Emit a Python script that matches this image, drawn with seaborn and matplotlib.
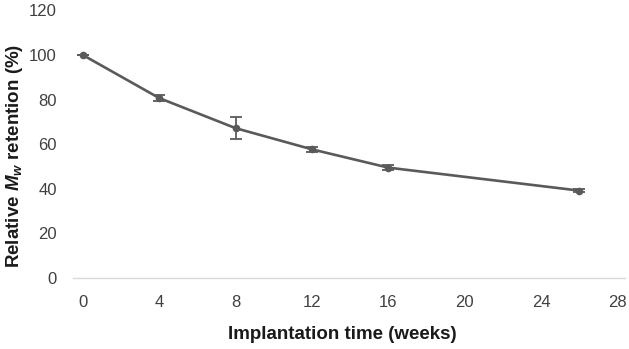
import matplotlib
matplotlib.use("Agg")
import matplotlib.pyplot as plt
import numpy as np
import pandas as pd
import seaborn as sns

weeks = [0, 4, 8, 12, 16, 26]
retention = [100.0, 80.7, 67.2, 57.7, 49.5, 39.2]
err = [0.0, 1.2, 5.0, 1.0, 1.2, 0.8]
x_ticks = [0, 4, 8, 12, 16, 20, 24, 28]
y_ticks = [0, 20, 40, 60, 80, 100, 120]

sns.set_style("white")
plt.rcParams["font.family"] = ["Liberation Sans", "DejaVu Sans"]
plt.rcParams["mathtext.fontset"] = "custom"
plt.rcParams["mathtext.it"] = "Liberation Sans:italic:bold"
plt.rcParams["mathtext.rm"] = "Liberation Sans:bold"

line_color = "#5a5a5a"
tick_color = "#404040"
label_color = "#1a1a1a"

df = pd.DataFrame({"weeks": weeks, "retention": retention, "err": err})

fig, ax = plt.subplots(figsize=(6.29, 3.49), dpi=100)
fig.subplots_adjust(left=0.116, right=0.994, top=0.970, bottom=0.2034)

ax.errorbar(df["weeks"], df["retention"], yerr=df["err"], fmt="none",
            ecolor=line_color, elinewidth=1.3, capsize=4, capthick=1.3, zorder=2)
sns.lineplot(data=df, x="weeks", y="retention", ax=ax, color=line_color,
             linewidth=1.9, marker="o", markersize=5.5, markeredgewidth=0, zorder=3)

ax.set_xlim(-0.52, 28.4)
ax.set_ylim(0, 120)
ax.set_xticks(x_ticks)
ax.set_yticks(y_ticks)
ax.tick_params(axis="x", labelsize=12, labelcolor=tick_color, length=0, pad=12)
ax.tick_params(axis="y", labelsize=12, labelcolor=tick_color, length=0, pad=11.5)

for side in ["top", "right", "left"]:
    ax.spines[side].set_visible(False)
ax.spines["bottom"].set_color("#d9d9d9")
ax.spines["bottom"].set_linewidth(1.0)

ax.set_xlabel("Implantation time (weeks)", fontsize=13.5, fontweight="bold", color=label_color)
ax.set_ylabel(r"Relative $M_w$ retention (%)", fontsize=13.5, fontweight="bold", color=label_color)
ax.xaxis.set_label_coords(0.487, -0.178)
ax.yaxis.set_label_coords(-0.086, 0.456)

fig.savefig("out.png", dpi=100)
